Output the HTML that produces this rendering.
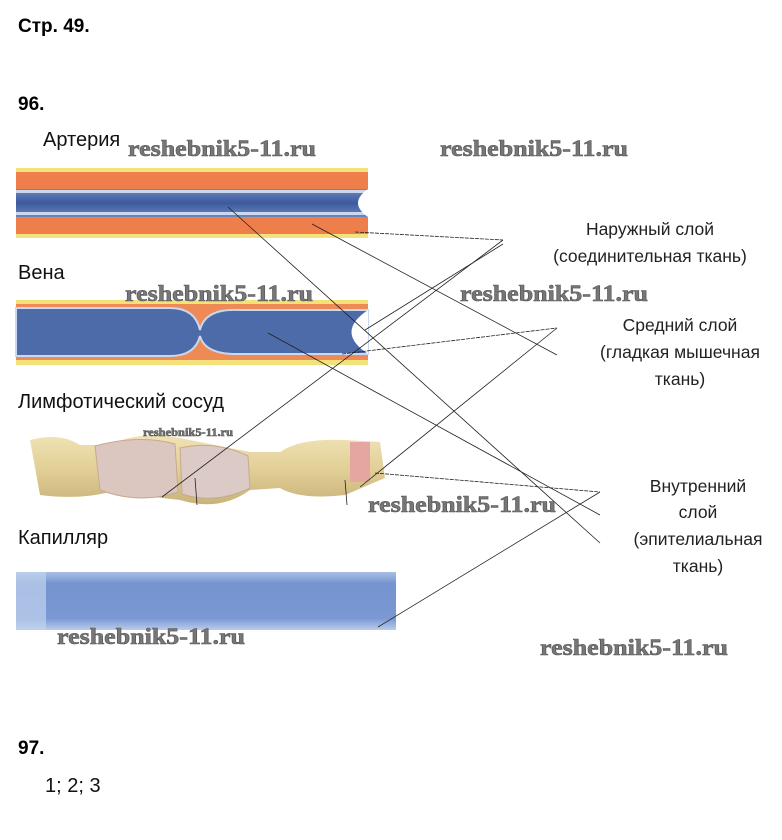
<!DOCTYPE html>
<html><head><meta charset="utf-8"><style>
html,body{margin:0;padding:0;background:#fff}
svg{display:block}
.h{font-family:"Liberation Sans",sans-serif;font-weight:bold;font-size:19px;fill:#000}
.l{font-family:"Liberation Sans","Noto Sans CJK JP",sans-serif;font-size:20px;fill:#111}
.r{font-family:"Liberation Sans","Noto Sans CJK JP",sans-serif;font-size:17.5px;fill:#222;text-anchor:middle}
.w{font-family:"Liberation Serif",serif;font-weight:bold;font-size:23px;fill:#777;stroke:#555;stroke-width:0.6}
</style></head><body>
<svg width="782" height="840" viewBox="0 0 782 840">
<defs>
<linearGradient id="blue" x1="0" y1="0" x2="0" y2="1">
<stop offset="0" stop-color="#6b86c0"/><stop offset="0.5" stop-color="#3c5a9c"/><stop offset="1" stop-color="#6b86c0"/></linearGradient>
<linearGradient id="cap" x1="0" y1="0" x2="0" y2="1">
<stop offset="0" stop-color="#a9c0e6"/><stop offset="0.2" stop-color="#7594d0"/><stop offset="0.8" stop-color="#7a98d2"/><stop offset="1" stop-color="#b9cceb"/></linearGradient>
<linearGradient id="lym" x1="0" y1="0" x2="0" y2="1">
<stop offset="0" stop-color="#efe2b5"/><stop offset="0.5" stop-color="#e2cf96"/><stop offset="1" stop-color="#c9b37a"/></linearGradient>
</defs>
<text class="h" x="18" y="32">Стр. 49.</text>
<text class="h" x="18" y="110">96.</text>
<text class="l" x="43" y="146">Артерия</text>
<text class="l" x="18" y="279">Вена</text>
<text class="l" x="18" y="408">Лимфотический сосуд</text>
<text class="l" x="18" y="544">Капилляр</text>

<!-- artery -->
<rect x="16" y="168" width="352" height="70" fill="#f3e27a"/>
<rect x="16" y="172" width="352" height="17" fill="#ee7e4a"/>
<rect x="16" y="217" width="352" height="17" fill="#ee7e4a"/>
<rect x="16" y="189" width="352" height="28" fill="url(#blue)"/>
<rect x="16" y="190" width="352" height="3" fill="#c9d7ef"/>
<rect x="16" y="212" width="352" height="3" fill="#c9d7ef"/>
<path d="M368 189 Q348 203 368 217 Z" fill="#fff"/>

<!-- vein -->
<rect x="16" y="300" width="352" height="65" fill="#f3e27a"/>
<rect x="16" y="304" width="352" height="56" fill="#ee8a55"/>
<path d="M16 308 L170 308 Q195 308 200 330 Q205 308 240 310 L368 310 L368 354 L240 354 Q205 355 200 336 Q195 356 170 356 L16 356 Z" fill="#4d6aa9" stroke="#c9d7ef" stroke-width="2"/>
<path d="M368 310 Q335 332 368 354 Z" fill="#fff"/>

<!-- lymph -->
<path d="M30 440 Q60 432 80 445 L110 445 Q140 430 180 438 L250 452 L280 452 Q300 438 345 440 L380 442 L385 478 L345 495 Q300 500 280 488 L250 490 Q220 512 180 500 L110 492 Q80 500 40 495 Z" fill="url(#lym)"/>
<path d="M95 446 Q140 434 175 444 L178 492 Q140 505 100 490 Z" fill="#dcc6c0" stroke="#c7a98d"/>
<path d="M180 448 Q215 440 248 456 L250 488 Q215 505 182 494 Z" fill="#dccac6" stroke="#c7a98d"/>
<rect x="350" y="442" width="20" height="40" fill="#e3a6a0"/>

<!-- capillary -->
<rect x="16" y="572" width="380" height="58" fill="url(#cap)"/>
<rect x="16" y="572" width="30" height="58" fill="#c2d3ee" opacity="0.7"/>

<!-- lines -->
<g stroke="#222" stroke-width="0.8" fill="none">
<line x1="355" y1="232" x2="503" y2="240" stroke-dasharray="4 1"/>
<line x1="503" y1="240" x2="162" y2="497"/>
<line x1="503" y1="244" x2="365" y2="330"/>
<line x1="228" y1="207" x2="600" y2="543"/>
<line x1="312" y1="224" x2="557" y2="355"/>
<line x1="268" y1="333" x2="600" y2="515"/>
<line x1="342" y1="354" x2="557" y2="328" stroke-dasharray="4 1"/>
<line x1="557" y1="328" x2="360" y2="487"/>
<line x1="375" y1="473" x2="600" y2="492" stroke-dasharray="4 1"/>
<line x1="600" y1="492" x2="378" y2="627"/>
<line x1="345" y1="480" x2="347" y2="505"/>
<line x1="195" y1="478" x2="197" y2="505"/>
</g>

<text class="r" x="650" y="235">Наружный слой</text>
<text class="r" x="650" y="262">(соединительная ткань)</text>
<text class="r" x="680" y="331">Средний слой</text>
<text class="r" x="680" y="358">(гладкая мышечная</text>
<text class="r" x="680" y="385">ткань)</text>
<text class="r" x="698" y="492">Внутренний</text>
<text class="r" x="698" y="518">слой</text>
<text class="r" x="698" y="545">(эпителиальная</text>
<text class="r" x="698" y="572">ткань)</text>

<text class="w" x="128" y="156" textLength="188" lengthAdjust="spacingAndGlyphs">reshebnik5-11.ru</text>
<text class="w" x="440" y="156" textLength="188" lengthAdjust="spacingAndGlyphs">reshebnik5-11.ru</text>
<text class="w" x="125" y="301" textLength="188" lengthAdjust="spacingAndGlyphs">reshebnik5-11.ru</text>
<text class="w" x="460" y="301" textLength="188" lengthAdjust="spacingAndGlyphs">reshebnik5-11.ru</text>
<text class="w" x="143" y="436" style="font-size:12px" textLength="90" lengthAdjust="spacingAndGlyphs">reshebnik5-11.ru</text>
<text class="w" x="368" y="512" textLength="188" lengthAdjust="spacingAndGlyphs">reshebnik5-11.ru</text>
<text class="w" x="57" y="644" textLength="188" lengthAdjust="spacingAndGlyphs">reshebnik5-11.ru</text>
<text class="w" x="540" y="655" textLength="188" lengthAdjust="spacingAndGlyphs">reshebnik5-11.ru</text>

<text class="h" x="18" y="754">97.</text>
<text class="l" x="45" y="792">1; 2; 3</text>
</svg>
</body></html>
